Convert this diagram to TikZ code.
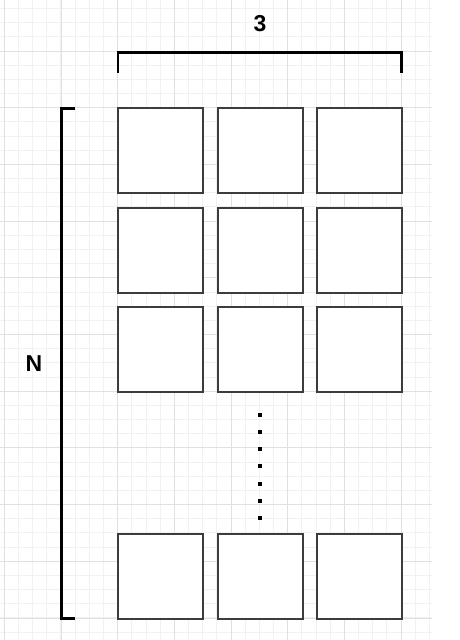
\documentclass[tikz,border=0pt]{standalone}
\usepackage{fontspec}
\setmainfont{Liberation Sans}
\definecolor{gridmajor}{HTML}{E0E0E0}
\definecolor{gridminor}{HTML}{F1F1F1}
\definecolor{boxline}{HTML}{3C3C3C}
\tikzset{
  cell/.style={draw=boxline, line width=1.8pt, fill=white, minimum width=85pt, minimum height=85pt, inner sep=0pt, outer sep=0pt},
  bracketline/.style={draw=black, line width=2.8pt},
  lbl/.style={font=\bfseries\fontsize{23}{26}\selectfont, text=black, inner sep=0pt},
  dotmark/.style={fill=black, minimum size=4pt, inner sep=0pt}
}
\begin{document}
\begin{tikzpicture}[x=1pt,y=-1pt]
\useasboundingbox (0,0) rectangle (460,640);
\fill[white] (0,0) rectangle (460,640);
% minor grid
\foreach \i in {0,...,30} {
  \pgfmathsetmacro{\xx}{4.3+14.17*\i}
  \ifdim \xx pt<432pt \draw[gridminor, line width=1pt] (\xx,0) -- (\xx,640); \fi
}
\foreach \i in {-1,...,45} {
  \pgfmathsetmacro{\yy}{8.6+14.17*\i}
  \draw[gridminor, line width=1pt] (0,\yy) -- (432,\yy);
}
% major grid
\foreach \i in {0,...,7} {
  \pgfmathsetmacro{\xx}{4.3+56.7*\i}
  \draw[gridmajor, line width=1pt] (\xx,0) -- (\xx,640);
}
\foreach \i in {-1,...,11} {
  \pgfmathsetmacro{\yy}{51+56.7*\i}
  \draw[gridmajor, line width=1pt] (0,\yy) -- (432,\yy);
}
% cells
\node[cell, anchor=north west] (r1c1) at (118,108.3) {};
\node[cell, anchor=north west] (r1c2) at (217.7,108.3) {};
\node[cell, anchor=north west] (r1c3) at (317,108.3) {};
\node[cell, anchor=north west] (r2c1) at (118,207.6) {};
\node[cell, anchor=north west] (r2c2) at (217.7,207.6) {};
\node[cell, anchor=north west] (r2c3) at (317,207.6) {};
\node[cell, anchor=north west] (r3c1) at (118,306.9) {};
\node[cell, anchor=north west] (r3c2) at (217.7,306.9) {};
\node[cell, anchor=north west] (r3c3) at (317,306.9) {};
\node[cell, anchor=north west] (r4c1) at (118,534) {};
\node[cell, anchor=north west] (r4c2) at (217.7,534) {};
\node[cell, anchor=north west] (r4c3) at (317,534) {};
% dots
\foreach \k in {0,...,6} {
  \node[dotmark] (d\k) at (260.3,{415.3+17.05*\k}) {};
}
% top bracket
\coordinate (tbl) at (118,72.8);
\coordinate (tbtl) at (118,52.3);
\coordinate (tbtr) at (401.8,52.3);
\coordinate (tbr) at (401.8,72.8);
\draw[bracketline] (tbl) -- (tbtl) -- (tbtr) -- (tbr);
% left bracket
\coordinate (lbt) at (75.3,108.3);
\coordinate (lbtl) at (61.5,108.3);
\coordinate (lbbl) at (61.5,618.5);
\coordinate (lbb) at (75.3,618.5);
\draw[bracketline] (lbt) -- (lbtl) -- (lbbl) -- (lbb);
% labels
\node[lbl] (three) at (260,23.8) {3};
\node[lbl] (nlabel) at (34,364) {N};
\end{tikzpicture}
\end{document}
